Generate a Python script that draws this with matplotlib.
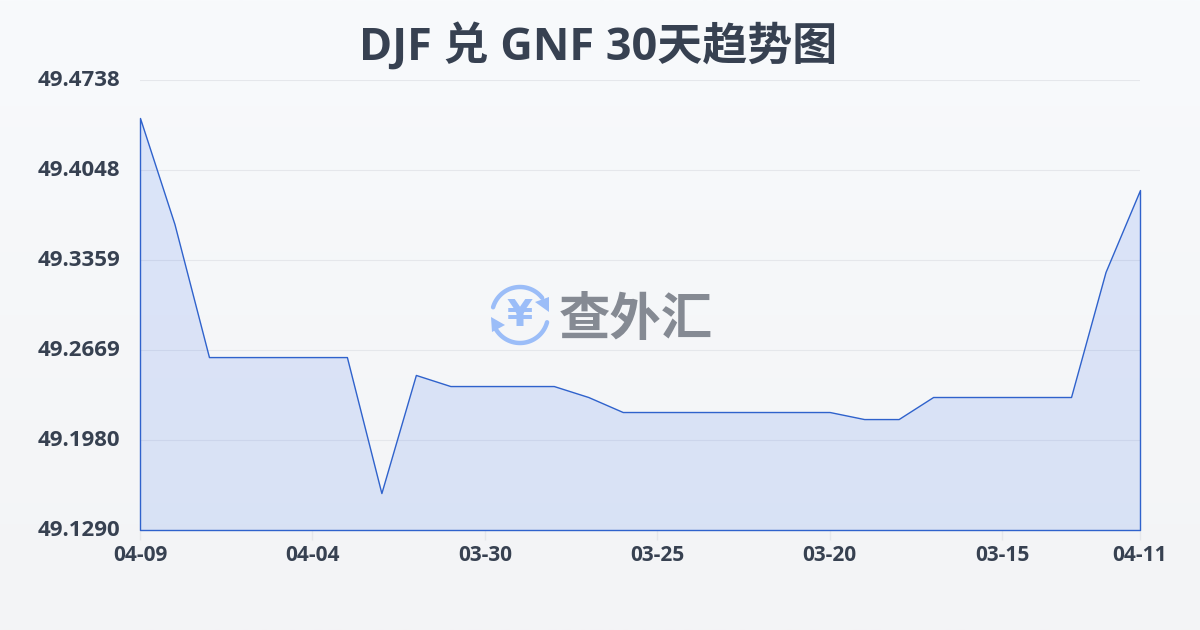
import numpy as np
import matplotlib
matplotlib.use('Agg')
import matplotlib.pyplot as plt
from matplotlib.transforms import ScaledTranslation

plt.rcParams['font.family'] = ['Open Sans', 'Noto Sans CJK SC', 'DejaVu Sans']

title = 'DJF 兑 GNF 30天趋势图'
rates = [49.4447, 49.3634, 49.2615, 49.2615, 49.2615, 49.2615, 49.2615, 49.1573,
         49.2478, 49.2393, 49.2393, 49.2393, 49.2393, 49.2309, 49.2194, 49.2194,
         49.2194, 49.2194, 49.2194, 49.2194, 49.2194, 49.2140, 49.2140, 49.2309,
         49.2309, 49.2309, 49.2309, 49.2309, 49.3267, 49.3895]
x_ticks = [0, 5, 10, 15, 20, 25, 29]
x_labels = ['04-09', '04-04', '03-30', '03-25', '03-20', '03-15', '04-11']
y_ticks = [49.1290, 49.1980, 49.2669, 49.3359, 49.4048, 49.4738]
y_labels = ['49.1290', '49.1980', '49.2669', '49.3359', '49.4048', '49.4738']

W, H = 1200, 630
fig = plt.figure(figsize=(W / 100, H / 100), dpi=100)

# background gradient + overlay in pixel coords
bg = fig.add_axes([0, 0, 1, 1], zorder=0)
bg.set_xlim(0, W)
bg.set_ylim(H, 0)
bg.axis('off')
grad = np.linspace(0, 1, 256).reshape(-1, 1, 1)
top = np.array([248, 250, 252]) / 255
bottom = np.array([243, 244, 246]) / 255
bg.imshow(top + (bottom - top) * grad, extent=[0, W, H, 0], aspect='auto')

# chart
ax = fig.add_axes([140 / W, 1 - 530 / H, 1000 / W, 450 / H], zorder=1)
ax.patch.set_alpha(0)
xs = np.arange(len(rates))
ax.fill_between(xs, rates, y_ticks[0], facecolor=(37 / 255, 99 / 255, 235 / 255, 0.13),
                edgecolor='#2f62cc', linewidth=1, clip_on=False, zorder=3)
ax.set_xlim(0, len(rates) - 1)
ax.set_ylim(y_ticks[0], y_ticks[-1])
ax.set_xticks(x_ticks)
ax.set_xticklabels(x_labels, fontsize=15, fontweight='bold', color='#374151')
ax.set_yticks(y_ticks)
ax.set_yticklabels(y_labels, fontsize=16, fontweight='bold', color='#374151')
ax.tick_params(axis='x', length=7, width=1, color='#e5e7eb', pad=3.5)
ax.tick_params(axis='y', length=0, pad=14.4)
ax.grid(axis='y', color='#e5e7eb', linewidth=0.8)
ax.set_axisbelow(True)
for s in ax.spines.values():
    s.set_visible(False)
# y labels sit slightly above their gridline
for lab in ax.get_yticklabels():
    lab.set_transform(lab.get_transform() + ScaledTranslation(0, 2 / 100, fig.dpi_scale_trans))

fig.text(598 / W, 1 - 47 / H, title, fontsize=32.4, fontweight='bold', color='#374151',
         ha='center', va='center')

# logo
logo_blue = '#9bbdf8'
t = np.radians(np.linspace(196, 322, 60))
bg.plot(520 + 28 * np.cos(t), 315 + 28 * np.sin(t), color=logo_blue, lw=3.2, solid_capstyle='round')
t = np.radians(np.linspace(15, 151, 60))
bg.plot(520 + 28 * np.cos(t), 315 + 28 * np.sin(t), color=logo_blue, lw=3.2, solid_capstyle='round')
bg.fill([535, 549, 549], [302, 297, 312], color=logo_blue, lw=0)
bg.fill([491, 505, 492], [317, 325, 332], color=logo_blue, lw=0)
bg.text(520, 316, '¥', fontsize=27, fontweight='bold', color=logo_blue, ha='center', va='center',
        family='DejaVu Sans')
bg.text(636, 319, '查外汇', fontsize=37, fontweight='black', color='#858a93', ha='center', va='center',
        family=['Noto Sans CJK SC', 'DejaVu Sans'])

fig.savefig('out.png', dpi=100)
